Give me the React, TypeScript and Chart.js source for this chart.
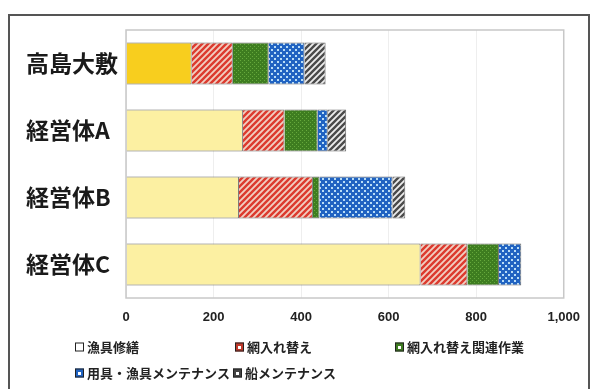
import React, { useEffect, useRef } from "react";
import { Chart, registerables } from "chart.js";
Chart.register(...registerables);

const categories = ["高島大敷", "経営体A", "経営体B", "経営体C"];
const seriesNames = ["漁具修繕", "網入れ替え", "網入れ替え関連作業", "用具・漁具メンテナンス", "船メンテナンス"];
const gyoguShuzen = [150, 267, 258, 673];
const amiIrekae = [94, 95, 169, 107];
const amiKanren = [82, 76, 15, 72];
const yoguMaint = [82, 23, 167, 51];
const funeMaint = [48, 42, 29, 0];
const xTicks = [0, 200, 400, 600, 800, 1000];

function makePattern(size: number, draw: (c: CanvasRenderingContext2D) => void): CanvasPattern {
  const cv = document.createElement("canvas");
  cv.width = size;
  cv.height = size;
  const c = cv.getContext("2d")!;
  draw(c);
  return c.createPattern(cv, "repeat")!;
}

function stripes(bg: string, fg: string, lw: number) {
  return makePattern(6, (c) => {
    c.fillStyle = bg;
    c.fillRect(0, 0, 6, 6);
    c.strokeStyle = fg;
    c.lineWidth = lw;
    c.beginPath();
    c.moveTo(0, 6); c.lineTo(6, 0);
    c.moveTo(-3, 3); c.lineTo(3, -3);
    c.moveTo(3, 9); c.lineTo(9, 3);
    c.stroke();
  });
}

export default function App() {
  const ref = useRef<HTMLCanvasElement | null>(null);
  useEffect(() => {
    document.body.style.margin = "0";
    const redP = stripes("#F1CFC2", "#DC3A2E", 2.4);
    const grayP = stripes("#EDEDED", "#4A4A4A", 2.4);
    const blueP = makePattern(6, (c) => {
      c.fillStyle = "#2063C2";
      c.fillRect(0, 0, 6, 6);
      c.fillStyle = "#B9DDF6";
      c.fillRect(1, 1, 2, 2);
      c.fillRect(4, 4, 2, 2);
    });
    const greenP = makePattern(4, (c) => {
      c.fillStyle = "#3E7D20";
      c.fillRect(0, 0, 4, 4);
      c.fillStyle = "#66A83C";
      c.fillRect(0, 0, 1, 1);
      c.fillRect(2, 2, 1, 1);
    });
    const legendColors = ["#FFFFFF", "#C0392B", "#3E7D20", "#2063C2", "#444444"];
    const framePlugin = {
      id: "frames",
      beforeDraw(chart: any) {
        const ctx = chart.ctx;
        ctx.save();
        ctx.fillStyle = "#ffffff";
        ctx.fillRect(0, 0, chart.width, chart.height);
        ctx.strokeStyle = "#555";
        ctx.lineWidth = 2;
        ctx.strokeRect(9, 15, 580, 390);
        ctx.restore();
      },
      afterDatasetsDraw(chart: any) {
        const { ctx, chartArea } = chart;
        ctx.save();
        ctx.strokeStyle = "#C8C8C8";
        ctx.lineWidth = 1.5;
        ctx.strokeRect(chartArea.left, chartArea.top, chartArea.right - chartArea.left, chartArea.bottom - chartArea.top);
        // legend
        ctx.font = "bold 13px 'Noto Sans CJK JP'";
        ctx.textBaseline = "middle";
        chart.data.datasets.forEach((ds: any, i: number) => {
          const col = i % 3;
          const row = Math.floor(i / 3);
          const x = 75 + col * 160 - (row === 1 && col === 1 ? 2 : 0);
          const y = 347 + row * 26;
          ctx.fillStyle = legendColors[i];
          ctx.fillRect(x, y - 4.5, 9, 9);
          ctx.strokeStyle = "#222";
          ctx.lineWidth = 1;
          ctx.strokeRect(x + 0.5, y - 4, 8, 8);
          if (i > 0) {
            ctx.fillStyle = "#ffffff";
            ctx.fillRect(x + 3, y - 1, 3, 3);
          }
          ctx.fillStyle = "#222";
          ctx.fillText(ds.label, x + 12, y);
        });
        ctx.restore();
      },
    };
    const border = "#6A6A6A";
    const chart = new Chart(ref.current!, {
      type: "bar",
      data: {
        labels: categories,
        datasets: [
          { label: seriesNames[0], data: gyoguShuzen, backgroundColor: ["#F8CE1E", "#FCF0A2", "#FCF0A2", "#FCF0A2"], borderColor: border, borderWidth: 1 },
          { label: seriesNames[1], data: amiIrekae, backgroundColor: redP, borderColor: border, borderWidth: 1 },
          { label: seriesNames[2], data: amiKanren, backgroundColor: greenP, borderColor: border, borderWidth: 1 },
          { label: seriesNames[3], data: yoguMaint, backgroundColor: blueP, borderColor: border, borderWidth: 1 },
          { label: seriesNames[4], data: funeMaint, backgroundColor: grayP, borderColor: border, borderWidth: 1 },
        ],
      },
      options: {
        indexAxis: "y",
        responsive: false,
        animation: false,
        layout: { padding: { top: 30, right: 27, bottom: 61, left: 26 } },
        datasets: { bar: { barPercentage: 0.63, categoryPercentage: 1 } },
        plugins: { legend: { display: false }, tooltip: { enabled: false } },
        scales: {
          x: {
            stacked: true,
            min: 0,
            max: 1000,
            afterBuildTicks: (s: any) => { s.ticks = xTicks.map((v) => ({ value: v })); },
            afterFit: (s: any) => { s.height = 30; },
            grid: { color: "#EEEEEE", drawTicks: false },
            border: { display: false },
            ticks: {
              padding: 12,
              color: "#222",
              font: { family: "'Liberation Sans'", size: 13, weight: "bold" },
              callback: (v: any) => Number(v).toLocaleString("en-US"),
            },
          },
          y: {
            stacked: true,
            afterFit: (s: any) => { s.width = 100; },
            grid: { display: false },
            border: { display: false },
            ticks: {
              padding: 8,
              crossAlign: "far",
              color: "#1a1a1a",
              font: { family: "'Noto Sans CJK JP'", size: 23, weight: "bold" },
            },
          },
        },
      },
      plugins: [framePlugin],
    } as any);
    return () => chart.destroy();
  }, []);
  return <canvas ref={ref} width={592} height={389} style={{ display: "block" }} />;
}
